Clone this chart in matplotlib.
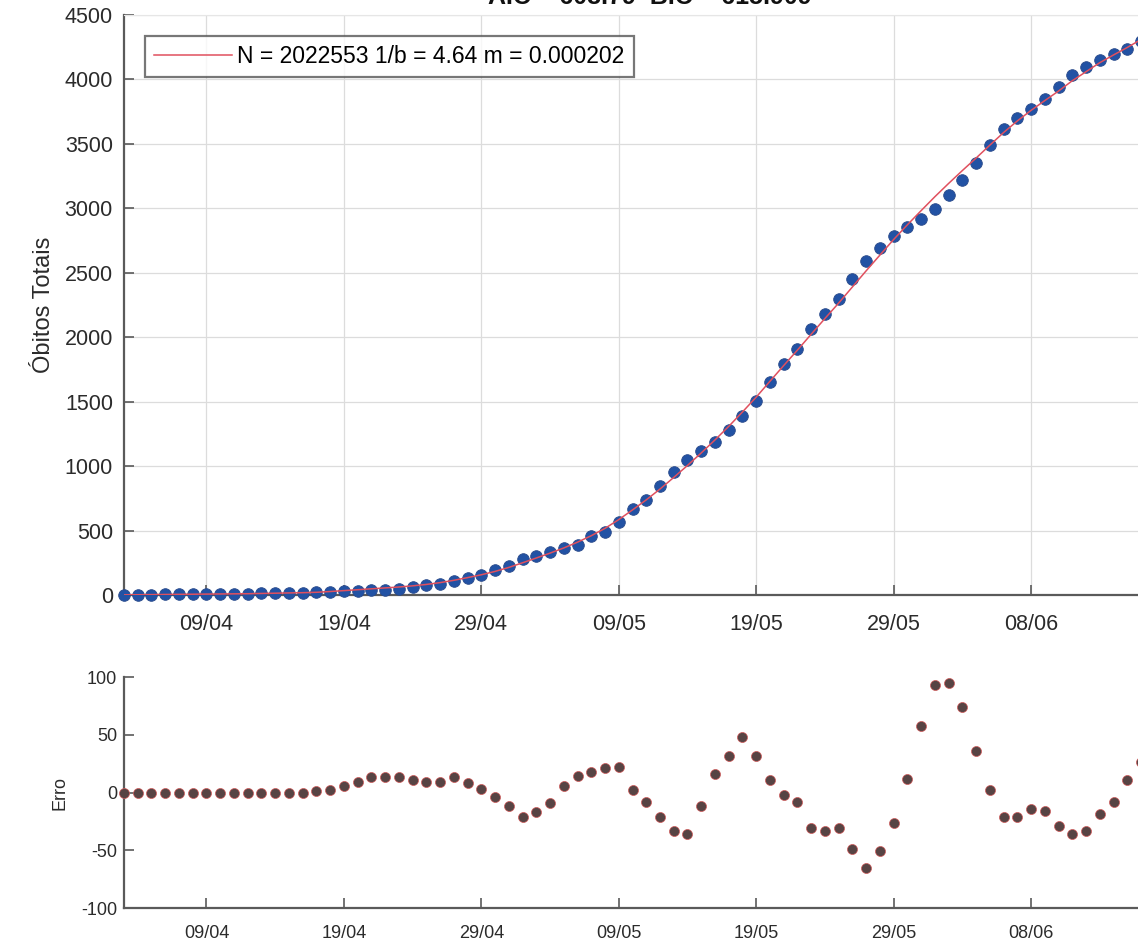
import numpy as np
import matplotlib
matplotlib.use("Agg")
import matplotlib.pyplot as plt
import matplotlib.dates as mdates

plt.rcParams['font.family'] = ['Liberation Sans', 'DejaVu Sans']
plt.rcParams['axes.unicode_minus'] = False

# dias a partir de 03/04/2020
datas = np.arange(np.datetime64('2020-04-03'), np.datetime64('2020-06-17'))

obitos = [1, 2, 3, 4, 5, 6, 7, 8, 9, 10,
          12, 14, 16, 18, 20, 26, 30, 34, 37, 42,
          47, 60, 74, 88, 106, 134, 152, 193, 228, 278,
          299, 335, 364, 390, 455, 492, 570, 666, 738, 842,
          953, 1044, 1114, 1186, 1277, 1386, 1502, 1653, 1792, 1912,
          2064, 2184, 2300, 2455, 2590, 2694, 2786, 2858, 2920, 2997,
          3100, 3219, 3353, 3493, 3617, 3704, 3774, 3849, 3939, 4035,
          4094, 4153, 4200, 4238, 4300]

ajuste = [1, 2, 3, 4, 5, 6, 7, 8, 9, 10,
          12, 14, 16, 18, 21, 27, 34, 41, 48, 55,
          62, 71, 82, 96, 114, 135, 157, 183, 214, 250,
          287, 325, 365, 410, 460, 517, 585, 660, 738, 822,
          912, 1005, 1102, 1203, 1308, 1420, 1535, 1658, 1780, 1900,
          2023, 2145, 2265, 2390, 2515, 2637, 2758, 2872, 2982, 3090,
          3193, 3293, 3390, 3490, 3588, 3678, 3760, 3836, 3910, 3990,
          4060, 4130, 4190, 4248, 4310]

erro = [0, 0, 0, 0, 0, 0, 0, 0, 0, 0,
        0, 0, 0, 0, 1, 2, 6, 9, 13, 13,
        13, 11, 9, 9, 13, 8, 3, -4, -12, -21,
        -17, -9, 6, 14, 18, 21, 22, 2, -8, -21,
        -33, -36, -12, 16, 32, 48, 32, 11, -2, -8,
        -31, -33, -31, -49, -65, -51, -26, 12, 58, 93,
        95, 74, 36, 2, -21, -21, -14, -16, -29, -36,
        -33, -19, -8, 11, 26]

legenda = 'N = 2022553 1/b = 4.64 m = 0.000202'
titulo = 'AIC = 608.79  BIC = 615.909'
ticks_x = ['2020-04-09', '2020-04-19', '2020-04-29', '2020-05-09',
           '2020-05-19', '2020-05-29', '2020-06-08']

W, H = 1138, 947
fig = plt.figure(figsize=(W / 100, H / 100), dpi=100)

ax1 = fig.add_axes([124 / W, 1 - 595 / H, (1141 - 124) / W, 580 / H])
ax2 = fig.add_axes([124 / W, 1 - 908 / H, (1141 - 124) / W, 231 / H])

spine_c = '#5a5a5a'
txt_c = '#2b2b2b'

# --- painel de cima
ax1.scatter(datas, obitos, s=70, color='#2252a4', edgecolors='#2a4a8a',
            linewidths=0.6, zorder=3, clip_on=False)
ax1.plot(datas, ajuste, color='#e0505e', lw=1.1, zorder=4, label=legenda)
ax1.set_ylim(0, 4500)
ax1.set_yticks(np.arange(0, 4501, 500))
ax1.set_ylabel('Óbitos Totais', fontsize=17, color=txt_c, labelpad=7)
ax1.grid(True, color='#dcdcdc', lw=0.9)
ax1.set_axisbelow(True)
leg = ax1.legend(loc='upper left', fontsize=16.5, frameon=True, fancybox=False,
                 handlelength=3.4, handletextpad=0.25, borderaxespad=0.9,
                 borderpad=0.4)
leg.get_frame().set_edgecolor('#555555')
leg.get_frame().set_linewidth(1.6)

# --- painel de baixo
ax2.scatter(datas, erro, s=52, color='#574444', edgecolors='#d05a5a',
            linewidths=0.5, zorder=3, clip_on=False)
ax2.set_ylim(-100, 100)
ax2.set_yticks([-100, -50, 0, 50, 100])
ax2.set_ylabel('Erro', fontsize=13, color=txt_c, labelpad=9)

for ax, fs, xpad, ypad in ((ax1, 15.5, 14, 8), (ax2, 13, 12, 5)):
    ax.set_xlim(datas[0], datas[-1])
    ax.set_xticks([np.datetime64(d) for d in ticks_x])
    ax.xaxis.set_major_formatter(mdates.DateFormatter('%d/%m'))
    ax.tick_params(direction='in', length=7, width=1.2, colors=spine_c,
                   labelcolor=txt_c, labelsize=fs)
    ax.tick_params(axis='x', pad=xpad)
    ax.tick_params(axis='y', pad=ypad)
    for s in ('top', 'right'):
        ax.spines[s].set_visible(False)
    for s in ('left', 'bottom'):
        ax.spines[s].set_color(spine_c)
        ax.spines[s].set_linewidth(1.6)

ax1.spines['top'].set_visible(True)
ax1.spines['top'].set_color('#e6e6e6')

# titulo cortado na borda de cima, como na figura original
fig.text(650 / W, 1 - 4 / H, titulo, ha='center', va='baseline',
         fontsize=18, fontweight='bold', color='#111111')

fig.savefig('out.png', dpi=100)
